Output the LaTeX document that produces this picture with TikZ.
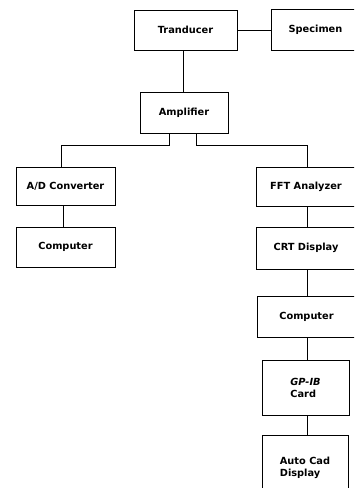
\documentclass[tikz,border=0pt]{standalone}
\usepackage{fontspec}
\setmainfont{DejaVu Sans}
\begin{document}
\begin{tikzpicture}[x=1pt,y=-1pt,
  box/.style={draw, line width=0.8pt, inner sep=0pt, font=\fontsize{9.8}{12}\selectfont\bfseries},
  conn/.style={line width=0.8pt}]
\useasboundingbox (0,0) rectangle (354,488);
\clip (0,0) rectangle (354,488);
\node[box, minimum width=103, minimum height=40] (tr) at (185.5,30) {Tranducer};
\node[box, minimum width=89, minimum height=41] (sp) at (315.5,29.5) {Specimen};
\node[box, minimum width=88, minimum height=41] (amp) at (184,112.5) {Amplifier};
\node[box, minimum width=99, minimum height=38] (ad) at (65.5,186) {A/D Converter};
\node[box, minimum width=99, minimum height=40] (c1) at (65.5,247) {Computer};
\node[box, minimum width=100, minimum height=39] (fft) at (306,186.5) {FFT Analyzer};
\node[box, minimum width=100, minimum height=42] (crt) at (306,248) {CRT Display};
\node[box, minimum width=99, minimum height=41] (c2) at (306.5,316.5) {Computer};
\node[box, minimum width=87, minimum height=55, align=left] (gp) at (305.5,387.5) {\itshape GP-IB\\Card};
\node[box, minimum width=86, minimum height=65, align=left] (ac) at (305,467.5) {Auto Cad\\Display};
\draw[conn] (tr.east) -- (tr.east -| sp.west);
\draw[conn] ([xshift=-2pt]tr.south) -- ([xshift=-2pt]tr.south |- amp.north);
\draw[conn] ([xshift=-15pt]amp.south) -- ++(0,12) -| ([xshift=-4.5pt]ad.north);
\draw[conn] ([xshift=12pt]amp.south) -- ++(0,12) -| ([xshift=1pt]fft.north);
\draw[conn] ([xshift=-2.5pt]ad.south) -- ([xshift=-2.5pt]c1.north);
\draw[conn] ([xshift=1pt]fft.south) -- ([xshift=1pt]crt.north);
\draw[conn] ([xshift=1pt]crt.south) -- ([xshift=1pt]crt.south |- c2.north);
\draw[conn] ([xshift=1.5pt]gp.north) -- ([xshift=1.5pt]gp.north |- c2.south);
\draw[conn] ([xshift=2pt]ac.north) -- ([xshift=2pt]ac.north |- gp.south);
\end{tikzpicture}
\end{document}
